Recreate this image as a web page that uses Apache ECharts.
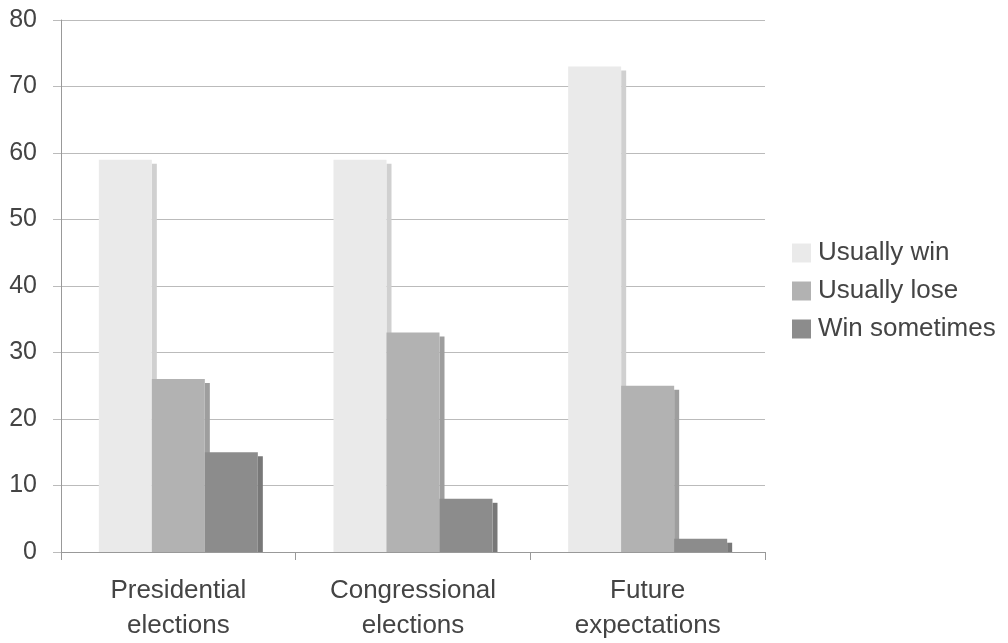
<!DOCTYPE html>
<html>
<head>
<meta charset="utf-8">
<script src="https://cdn.jsdelivr.net/npm/echarts@6/dist/echarts.min.js"></script>
<style>html,body{margin:0;padding:0;background:#fff}#c{width:1008px;height:643px}</style>
</head>
<body>
<div id="c"></div>
<script>
const categories = ['Presidential\nelections', 'Congressional\nelections', 'Future\nexpectations'];
const seriesNames = ['Usually win', 'Usually lose', 'Win sometimes'];
const usuallyWin = [59, 59, 73];
const usuallyLose = [26, 33, 25];
const winSometimes = [15, 8, 2];
const yTicks = [0, 10, 20, 30, 40, 50, 60, 70, 80];

const colors = ['#eaeaea', '#b2b2b2', '#8c8c8c'];
const shadows = ['#d0d0d0', '#9e9e9e', '#787878'];
const dataSets = [usuallyWin, usuallyLose, winSometimes];
const FONT = '"Liberation Sans", Arial, sans-serif';
const BW = 53;      // bar width (px)
const SH_X = 5;     // shadow strip width
const SH_Y = 4;     // shadow drop

const barSeries = seriesNames.map((n, i) => ({
  name: n, type: 'bar', data: dataSets[i],
  barWidth: BW, barGap: '0%', z: 3,
  itemStyle: {color: colors[i]}
}));

const shadowSeries = seriesNames.map((n, i) => ({
  name: n + ' shadow', type: 'custom', silent: true, z: 2,
  data: dataSets[i].map((v, k) => [k, v]),
  renderItem: function (params, api) {
    const top = api.coord([api.value(0), api.value(1)]);
    const base = api.coord([api.value(0), 0]);
    const n = seriesNames.length;
    const right = top[0] - (n * BW) / 2 + BW * (i + 1);
    return {
      type: 'rect',
      shape: {x: right, y: top[1] + SH_Y, width: SH_X, height: Math.max(0, base[1] - top[1] - SH_Y)},
      style: {fill: shadows[i]}
    };
  }
}));

const chart = echarts.init(document.getElementById('c'), null, {renderer: 'canvas'});
chart.setOption({
  animation: false,
  backgroundColor: '#fff',
  grid: {left: 61, right: 243, top: 20, bottom: 88, containLabel: false},
  legend: {
    orient: 'vertical', left: 787, top: 235,
    itemWidth: 19, itemHeight: 19, itemGap: 12,
    icon: 'rect',
    textStyle: {fontFamily: FONT, fontSize: 26, color: '#444', padding: [0, 0, 0, 2]},
    data: seriesNames
  },
  xAxis: {
    type: 'category', data: categories,
    axisLine: {lineStyle: {color: '#999', width: 1}},
    axisTick: {show: true, length: 8, lineStyle: {color: '#999'}},
    axisLabel: {fontFamily: FONT, fontSize: 26, color: '#444', lineHeight: 35, margin: 21}
  },
  yAxis: {
    type: 'value', min: yTicks[0], max: yTicks[yTicks.length - 1], interval: 10,
    axisLine: {show: true, lineStyle: {color: '#999'}},
    axisTick: {show: true, length: 8, lineStyle: {color: '#bbb'}},
    splitLine: {lineStyle: {color: '#bbb'}},
    axisLabel: {fontFamily: FONT, fontSize: 25, color: '#444', margin: 24}
  },
  series: shadowSeries.concat(barSeries)
});
</script>
</body>
</html>
